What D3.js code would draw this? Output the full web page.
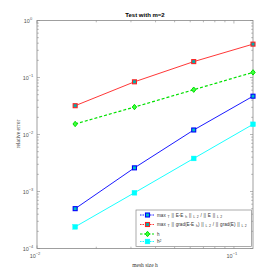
<!DOCTYPE html>
<html><head><meta charset="utf-8">
<script src="https://cdn.jsdelivr.net/npm/d3@7"></script>
<style>body{margin:0;background:#fff}svg{display:block}</style>
</head><body>
<script>
const hValues = [0.015625, 0.03125, 0.0625, 0.125];
const errL2 = [5.0e-4, 2.6e-3, 0.012, 0.047];
const errGrad = [0.032, 0.084, 0.19, 0.385];
const refH = [0.0153, 0.0303, 0.0611, 0.123];
const refH2 = [2.4e-4, 9.5e-4, 3.8e-3, 0.0151];
const xTickExps = [-2, -1];
const yTickExps = [0, -1, -2, -3, -4];

const W = 280, H = 280;
const m = {l: 37, r: 253, t: 20.5, b: 248.5};
const svg = d3.select("body").append("svg").attr("width", W).attr("height", H);
const x = d3.scaleLog().domain([0.01, 0.125]).range([m.l, m.r]);
const y = d3.scaleLog().domain([1e-4, 1]).range([m.b, m.t]);

const grey = "#888";
svg.append("rect").attr("x", m.l).attr("y", m.t).attr("width", m.r - m.l).attr("height", m.b - m.t)
  .attr("fill", "none").attr("stroke", grey).attr("stroke-width", 0.8);

const xMajor = xTickExps.map(e => Math.pow(10, e));
const xMinor = [];
for (let e = -2; e <= -1; e++) for (let k = 2; k <= 9; k++) { const v = k * Math.pow(10, e); if (v <= 0.125) xMinor.push(v); }
const yMajor = yTickExps.map(e => Math.pow(10, e));
const yMinor = [];
for (let e = -4; e <= -1; e++) for (let k = 2; k <= 9; k++) yMinor.push(k * Math.pow(10, e));

const tg = svg.append("g").attr("stroke", grey).attr("stroke-width", 0.6);
function xt(v, len) {
  tg.append("line").attr("x1", x(v)).attr("x2", x(v)).attr("y1", m.b).attr("y2", m.b - len);
  tg.append("line").attr("x1", x(v)).attr("x2", x(v)).attr("y1", m.t).attr("y2", m.t + len);
}
function yt(v, len) {
  tg.append("line").attr("y1", y(v)).attr("y2", y(v)).attr("x1", m.l).attr("x2", m.l + len);
  tg.append("line").attr("y1", y(v)).attr("y2", y(v)).attr("x1", m.r).attr("x2", m.r - len);
}
xMajor.forEach(v => xt(v, 3)); xMinor.forEach(v => xt(v, 1.8));
yMajor.forEach(v => yt(v, 3)); yMinor.forEach(v => yt(v, 1.8));

const fam = "Liberation Sans, Arial, sans-serif";
xTickExps.forEach(e => {
  const t = svg.append("text").attr("x", x(Math.pow(10, e)) - 2).attr("y", m.b + 9)
    .attr("text-anchor", "middle").attr("font-family", fam).attr("font-size", 5.5).attr("fill", "#555");
  t.append("tspan").text("10");
  t.append("tspan").attr("dy", -2.5).attr("font-size", 4).text("\u2212" + (-e));
});
yTickExps.forEach(e => {
  const t = svg.append("text").attr("x", m.l - 9).attr("y", y(Math.pow(10, e)) + 2)
    .attr("text-anchor", "middle").attr("font-family", fam).attr("font-size", 5.5).attr("fill", "#555");
  t.append("tspan").text("10");
  t.append("tspan").attr("dy", -2.5).attr("font-size", 4).text(e === 0 ? "0" : "\u2212" + (-e));
});

svg.append("text").attr("x", 145).attr("y", 16.5).attr("text-anchor", "middle")
  .attr("font-family", fam).attr("font-size", 6).attr("font-weight", "bold").text("Test with m=2");
svg.append("text").attr("x", 145).attr("y", 267).attr("text-anchor", "middle")
  .attr("font-family", "Liberation Serif, serif").attr("font-size", 5.5).attr("fill", "#333").text("mesh size h");
svg.append("text").attr("transform", "translate(20,134) rotate(-90)").attr("text-anchor", "middle")
  .attr("font-family", "Liberation Serif, serif").attr("font-size", 5.5).attr("fill", "#333").text("relative error");

const series = [
  {vals: errL2, color: "#0000ff", dash: null, width: 0.9, marker: "square", fill: "#00c0c0", stroke: "#0000ff"},
  {vals: errGrad, color: "#ff2020", dash: null, width: 0.9, marker: "square", fill: "#00b0b0", stroke: "#ff2020"},
  {vals: refH, color: "#00e000", dash: "3,2", width: 1.2, marker: "diamond", fill: "#40ff40", stroke: "#00e000"},
  {vals: refH2, color: "#00ffff", dash: null, width: 0.9, marker: "fsquare", fill: "#00ffff", stroke: "#00ffff"}
];
const line = d3.line().x(d => x(d[0])).y(d => y(d[1]));
function drawMarker(g, cx, cy, s) {
  if (s.marker === "square") {
    g.append("rect").attr("x", cx - 2).attr("y", cy - 2).attr("width", 4).attr("height", 4)
      .attr("fill", s.fill).attr("stroke", s.stroke).attr("stroke-width", 1.1);
  } else if (s.marker === "fsquare") {
    g.append("rect").attr("x", cx - 2.4).attr("y", cy - 2.4).attr("width", 4.8).attr("height", 4.8)
      .attr("fill", s.fill).attr("stroke", s.stroke).attr("stroke-width", 0.4);
  } else {
    g.append("path").attr("d", `M${cx},${cy-2.7}L${cx+2.2},${cy}L${cx},${cy+2.7}L${cx-2.2},${cy}Z`)
      .attr("fill", s.fill).attr("stroke", s.stroke).attr("stroke-width", 1);
  }
}
series.forEach(s => {
  const pts = hValues.map((h, i) => [h, s.vals[i]]);
  const p = svg.append("path").datum(pts).attr("d", line).attr("fill", "none")
    .attr("stroke", s.color).attr("stroke-width", s.width);
  if (s.dash) p.attr("stroke-dasharray", s.dash);
  const g = svg.append("g");
  pts.forEach(d => drawMarker(g, x(d[0]), y(d[1]), s));
});

const lg = svg.append("g");
lg.append("rect").attr("x", 136).attr("y", 210).attr("width", 115.5).attr("height", 36.5)
  .attr("fill", "#fff").attr("stroke", grey).attr("stroke-width", 0.7);
const rowsY = [215, 224.5, 234, 241.5];
series.forEach((s, i) => {
  const ly = rowsY[i];
  const l = lg.append("line").attr("x1", 140).attr("x2", 154).attr("y1", ly).attr("y2", ly)
    .attr("stroke", s.color).attr("stroke-width", s.width);
  if (s.dash) l.attr("stroke-dasharray", "2.5,1.5"); else l.attr("stroke-dasharray", "1.5,1");
  drawMarker(lg, 147.5, ly, s);
});
function legendText(yy, parts) {
  const t = lg.append("text").attr("x", 157).attr("y", yy + 1.6).attr("font-family", fam)
    .attr("font-size", 4.6).attr("fill", "#333").attr("word-spacing", 0.6);
  parts.forEach(p => {
    const ts = t.append("tspan").text(p[0]);
    if (p[1] === "sub") ts.attr("font-size", 3.4).attr("baseline-shift", "-30%");
    if (p[1] === "sup") ts.attr("font-size", 3.4).attr("baseline-shift", "45%");
  });
}
legendText(rowsY[0], [["max "], ["T", "sub"], [" || E-E "], ["h", "sub"], [" || "], ["L", "sub"], [" 2", "sub"], [" / || E || "], ["L", "sub"], [" 2", "sub"]]);
legendText(rowsY[1], [["max "], ["T", "sub"], [" || grad(E-E "], ["h", "sub"], [") || "], ["L", "sub"], [" 2", "sub"], [" / || grad(E) || "], ["L", "sub"], [" 2", "sub"]]);
legendText(rowsY[2], [["h"]]);
legendText(rowsY[3], [["h"], ["2", "sup"]]);
</script>
</body></html>
